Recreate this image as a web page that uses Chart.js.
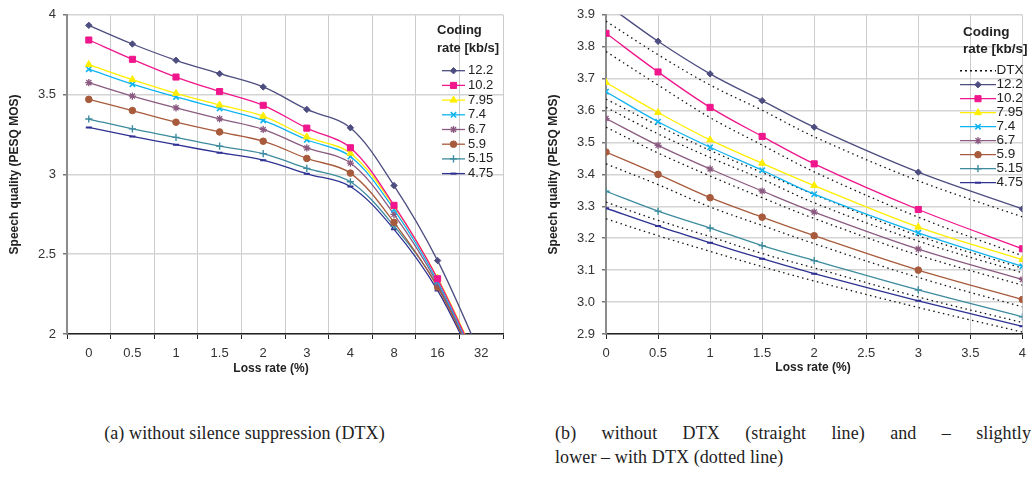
<!DOCTYPE html>
<html><head><meta charset="utf-8">
<script src="https://cdn.jsdelivr.net/npm/chart.js@4"></script>
<style>
body{margin:0;background:#fff;width:1033px;height:478px;overflow:hidden;position:relative;}
canvas{position:absolute;top:0}
#c1{left:0} #c2{left:520px}
.cap{position:absolute;font-family:"Liberation Serif","Times New Roman",serif;font-size:18px;letter-spacing:0.1px;color:#222;white-space:nowrap}
</style></head><body>
<canvas id="c1" width="512" height="385"></canvas>
<canvas id="c2" width="513" height="385"></canvas>
<div class="cap" style="left:0;width:489px;text-align:center;top:423px">(a) without silence suppression (DTX)</div>
<div class="cap" style="left:555px;width:476px;top:423px;text-align:justify;text-align-last:justify;white-space:normal">(b) without DTX (straight line) and – slightly</div>
<div class="cap" style="left:555px;top:447px">lower – with DTX (dotted line)</div>
<script>
// ---------- data ----------
const lossLabelsA = ['0','0.5','1','1.5','2','3','4','8','16','32'];
const lossRatesB = [0,0.5,1,1.5,2,3,4];
const codingRates = ['12.2','10.2','7.95','7.4','6.7','5.9','5.15','4.75'];

const mos_12_2 = [3.934,3.817,3.715,3.631,3.548,3.407,3.292,2.930,2.460,1.86];
const mos_10_2 = [3.842,3.721,3.610,3.519,3.433,3.290,3.167,2.806,2.346,1.77];
const mos_7_95 = [3.688,3.594,3.508,3.435,3.365,3.235,3.133,2.800,2.350,1.78];
const mos_7_4  = [3.659,3.565,3.485,3.413,3.338,3.217,3.112,2.780,2.330,1.76];
const mos_6_7  = [3.575,3.491,3.417,3.348,3.282,3.166,3.071,2.750,2.315,1.75];
const mos_5_9  = [3.470,3.400,3.327,3.266,3.208,3.100,3.008,2.700,2.294,1.74];
const mos_5_15 = [3.347,3.285,3.232,3.177,3.130,3.038,2.954,2.677,2.300,1.74];
const mos_4_75 = [3.294,3.238,3.186,3.136,3.089,3.004,2.924,2.656,2.273,1.73];

const dtx_12_2 = [3.880,3.775,3.680,3.601,3.518,3.380,3.267];
const dtx_10_2 = [3.785,3.680,3.578,3.492,3.408,3.266,3.145];
const dtx_7_95 = [3.636,3.553,3.475,3.406,3.337,3.208,3.106];
const dtx_7_4  = [3.610,3.527,3.453,3.385,3.311,3.191,3.092];
const dtx_6_7  = [3.548,3.467,3.395,3.327,3.262,3.147,3.053];
const dtx_5_9  = [3.433,3.368,3.298,3.240,3.183,3.077,2.985];
const dtx_5_15 = [3.313,3.256,3.205,3.152,3.107,3.016,2.936];
const dtx_4_75 = [3.261,3.208,3.159,3.111,3.066,2.983,2.906];

const yTicksA = [2,2.5,3,3.5,4];
const yTicksB = [2.9,3.0,3.1,3.2,3.3,3.4,3.5,3.6,3.7,3.8,3.9];
const xTicksB = [0,0.5,1,1.5,2,2.5,3,3.5,4];

const legendTitle = ['Coding','rate [kb/s]'];
const axisTitleX = 'Loss rate (%)';
const axisTitleY = 'Speech quality (PESQ MOS)';
const dtxLabel = 'DTX';

// ---------- styles ----------
const solidSeries = [mos_12_2,mos_10_2,mos_7_95,mos_7_4,mos_6_7,mos_5_9,mos_5_15,mos_4_75];
const dtxSeries = [dtx_12_2,dtx_10_2,dtx_7_95,dtx_7_4,dtx_6_7,dtx_5_9,dtx_5_15,dtx_4_75];
const colors = ['#4D4D80','#F0168C','#FFEE00','#10B4F0','#8B5A80','#A85B3C','#3D8B9E','#2E3192'];
const pStyles = ['rectRot','rect','triangle','crossRot','star','circle','cross','line'];
const pRadius = [3.2,4.3,4,3.8,3.6,3.3,3.6,3];
const pBorder = [1,1,1,1.6,1.3,1,1.4,2];
const FONT = '"Liberation Sans", Arial, sans-serif';

const overlay = {
  id:'overlay',
  afterDraw(chart, args, o){
    const ctx = chart.ctx; ctx.save();
    ctx.textBaseline = 'middle';
    ctx.fillStyle = '#222';
    ctx.font = 'bold 12px ' + FONT;
    ctx.textAlign = 'center';
    ctx.fillText(axisTitleX, o.xTitleX, o.xTitleY);
    ctx.textAlign = 'left';
    ctx.font = 'bold ' + o.fs + 'px ' + FONT;
    legendTitle.forEach((t,i)=>ctx.fillText(t, o.x, o.titleY[i]));
    ctx.font = o.fs + 'px ' + FONT;
    o.items.forEach((it,i)=>{
      const y = o.y0 + i*o.dy;
      ctx.strokeStyle = it.color; ctx.lineWidth = it.lw;
      ctx.setLineDash(it.dash || []);
      ctx.beginPath(); ctx.moveTo(o.lx, y); ctx.lineTo(o.lx+o.len, y); ctx.stroke();
      ctx.setLineDash([]);
      if (it.pointStyle) {
        ctx.fillStyle = it.color; ctx.strokeStyle = it.color; ctx.lineWidth = it.pbw;
        Chart.helpers.drawPoint(ctx, {pointStyle: it.pointStyle, radius: it.radius, rotation: 0, borderWidth: it.pbw}, o.lx + o.len/2, y);
      }
      ctx.fillStyle = '#222';
      ctx.fillText(it.label, o.tx, y);
    });
    ctx.restore();
  }
};

function solidDataset(i, data){
  return {
    label: codingRates[i], data,
    borderColor: colors[i], backgroundColor: colors[i],
    borderWidth: 1.3, tension: 0.35,
    pointStyle: pStyles[i], pointRadius: pRadius[i],
    pointBackgroundColor: colors[i], pointBorderColor: colors[i], pointBorderWidth: pBorder[i],
    clip: 0, order: 0
  };
}
function legendItems(){
  return codingRates.map((l,i)=>({label:l, color:colors[i], lw:1.3, pointStyle:pStyles[i], radius:pRadius[i], pbw:pBorder[i]}));
}
function yAxis(min, max, width, titlePad, fmt){
  return {
    type:'linear', min, max,
    afterBuildTicks: s => { s.ticks = (min===2 ? yTicksA : yTicksB).map(v=>({value:v})); },
    afterFit: s => { s.width = width; },
    ticks:{ font:{size:13, family:FONT}, color:'#333', padding:7, callback: fmt },
    grid:{ color:'#d4d4d4', lineWidth:1.5, tickLength:4, tickColor:'#777' },
    border:{ color:'#8c8c8c', width:2 },
    title:{ display:true, text:axisTitleY, font:{size:12, weight:'bold', family:FONT}, color:'#222', padding:{top:titlePad, bottom:0} }
  };
}

Chart.defaults.font.family = FONT;

// ---------- chart (a) ----------
new Chart(document.getElementById('c1'), {
  type:'line',
  data:{ labels: lossLabelsA, datasets: solidSeries.map((d,i)=>solidDataset(i,d)) },
  options:{
    responsive:false, animation:false, events:[],
    layout:{ padding:{left:0, top:12, right:9, bottom:0} },
    plugins:{ legend:{display:false}, tooltip:{enabled:false},
      overlay:{ xTitleX:271, xTitleY:369, fs:13, x:437, titleY:[30,48], y0:70.7, dy:14.7, lx:442, len:23, tx:468, items:legendItems() } },
    scales:{
      x:{ type:'category', offset:true,
        afterFit: s => { s.height = 51; },
        ticks:{ font:{size:13, family:FONT}, color:'#333', padding:7, maxRotation:0, autoSkip:false },
        grid:{ offset:true, color:'#cccccc', lineWidth:1, tickLength:5, tickColor:'#222' },
        border:{ color:'#222', width:1.5 } },
      y: yAxis(2, 4, 67, 7.8, v => String(v))
    }
  },
  plugins:[overlay]
});

// ---------- chart (b) ----------
const dsB = solidSeries.map((d,i)=>solidDataset(i, lossRatesB.map((x,k)=>({x, y:d[k]}))));
dtxSeries.forEach((d,i)=>dsB.push({
  label: dtxLabel, data: lossRatesB.map((x,k)=>({x, y:d[k]})),
  borderColor:'#111', borderWidth:1.3, borderDash:[1.5,3.5], tension:0.35,
  pointRadius:0, clip:0, order:1
}));
new Chart(document.getElementById('c2'), {
  type:'line',
  data:{ datasets: dsB },
  options:{
    responsive:false, animation:false, events:[],
    layout:{ padding:{left:0, top:14, right:4, bottom:0} },
    plugins:{ legend:{display:false}, tooltip:{enabled:false},
      overlay:{ xTitleX:293, xTitleY:368, fs:13.5, x:443, titleY:[32,49], y0:70.7, dy:14, lx:440, len:36, tx:476.5,
        items:[{label:dtxLabel, color:'#111', lw:1.5, dash:[2,3]}].concat(legendItems()) } },
    scales:{
      x:{ type:'linear', min:0, max:4,
        afterBuildTicks: s => { s.ticks = xTicksB.map(v=>({value:v})); },
        afterFit: s => { s.height = 51; },
        ticks:{ font:{size:13, family:FONT}, color:'#333', padding:7, maxRotation:0, callback: v => String(v) },
        grid:{ color:'#cccccc', lineWidth:1, tickLength:5, tickColor:'#222' },
        border:{ color:'#222', width:1.5 } },
      y: yAxis(2.9, 3.9, 86, 26, v => v.toFixed(1))
    }
  },
  plugins:[overlay]
});
</script>
</body></html>
